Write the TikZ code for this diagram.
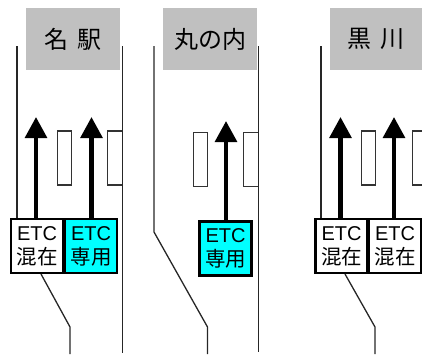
\documentclass[tikz,border=0pt]{standalone}
\usepackage{fontspec}
\setmainfont{Liberation Sans}
\newfontfamily\cjk{Noto Sans CJK JP}
\usetikzlibrary{arrows.meta}
\definecolor{etccyan}{RGB}{0,255,255}
\definecolor{titlegray}{RGB}{192,192,192}
\tikzset{
  title/.style={fill=titlegray,minimum width=94pt,minimum height=62pt,inner sep=0pt,font=\cjk\fontsize{24}{24}\selectfont},
  road/.style={draw=black!85,line width=1.3pt},
  booth/.style={draw=black!80,fill=white,line width=1.3pt,minimum width=14.5pt,minimum height=54pt,inner sep=0pt},
  etcbox/.style={draw=black,line width=2.6pt,minimum width=52pt,minimum height=54pt,inner sep=0pt,align=center,fill=white,font=\fontsize{20}{24}\selectfont},
  onlybox/.style={etcbox,fill=etccyan},
  lane/.style={line width=4.4pt,-{Triangle[width=21.5pt,length=21pt]}}
}
\newcommand{\etcmix}{ETC\\{\cjk\fontsize{20.5}{24}\selectfont 混在}}
\newcommand{\etconly}{ETC\\{\cjk\fontsize{20.5}{24}\selectfont 専用}}
\begin{document}
\begin{tikzpicture}[x=1pt,y=-1pt]
\useasboundingbox (0,0) rectangle (422,354);
% group 1
\node[title] (t1) at (73,39) {名\hspace{0.35em}駅};
\node[booth] (b1a) at (64.5,158) {};
\node[booth] (b1b) at (115,158) {};
\node[etcbox] (e1a) at (37,246) {\etcmix};
\node[onlybox] (e1b) at (91,246) {\etconly};
\coordinate (r1top) at (122.5,46); \coordinate (r1bot) at (122.5,353);
\coordinate (l1top) at (17,46); \coordinate (l1end) at (17,218);
\coordinate (k1) at (70,327); \coordinate (k1b) at (70,354); \coordinate (d1) at (41,274);
\coordinate (a1a) at (36,117); \coordinate (a1b) at (91.5,117);
\draw[road] (r1top) -- (r1bot);
\draw[road] (l1top) -- (l1end);
\draw[road] (d1) -- (k1) -- (k1b);
\draw[lane] (a1a |- e1a.north) -- (a1a);
\draw[lane] (a1b |- e1b.north) -- (a1b);
% group 2
\node[title] (t2) at (210,39) {丸の内};
\node[booth] (b2a) at (200.5,159.5) {};
\node[booth] (b2b) at (251,159.5) {};
\node[onlybox] (e2) at (225.5,248.5) {\etconly};
\coordinate (r2top) at (258.5,46); \coordinate (r2bot) at (258.5,352);
\coordinate (l2top) at (154,46); \coordinate (l2k) at (154,232);
\coordinate (k2) at (207.5,327); \coordinate (k2b) at (207.5,354);
\coordinate (a2) at (226,121);
\draw[road] (r2top) -- (r2bot);
\draw[road] (l2top) -- (l2k) -- (k2) -- (k2b);
\draw[lane] (a2 |- e2.north) -- (a2);
% group 3
\node[title,minimum width=92pt] (t3) at (376,39) {黒\hspace{0.35em}川};
\node[booth] (b3a) at (368.5,158) {};
\node[booth] (b3b) at (419.5,158) {};
\node[etcbox] (e3a) at (341.5,246) {\etcmix};
\node[etcbox] (e3b) at (395,246) {\etcmix};
\coordinate (l3top) at (321,46); \coordinate (l3end) at (321,218);
\coordinate (d3) at (345,274); \coordinate (k3) at (375,327); \coordinate (k3b) at (375,354);
\coordinate (a3a) at (340.5,117); \coordinate (a3b) at (394,117);
\draw[road] (l3top) -- (l3end);
\draw[road] (d3) -- (k3) -- (k3b);
\draw[lane] (a3a |- e3a.north) -- (a3a);
\draw[lane] (a3b |- e3b.north) -- (a3b);
\end{tikzpicture}
\end{document}
